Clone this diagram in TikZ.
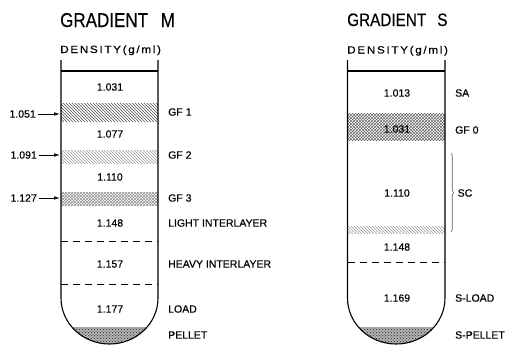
\documentclass[tikz,border=0pt]{standalone}
\usepackage{fontspec}
\usepackage{graphicx}
\setmainfont{Liberation Sans}[FakeBold=0.4]
\newfontfamily\spacedfont{Liberation Sans}[LetterSpace=14,FakeBold=0.4]
\usetikzlibrary{patterns,decorations.pathreplacing,arrows.meta}
\begin{document}
\begin{tikzpicture}[x=1pt,y=-1pt,
  wall/.style={line width=1.1pt},
  sep/.style={line width=0.9pt,dash pattern=on 7pt off 5pt},
  num/.style={inner sep=0pt,font=\fontsize{10.5}{12}\selectfont,anchor=center},
  lab/.style={inner sep=0pt,font=\fontsize{10.5}{12}\selectfont,anchor=west},
  ttl/.style={inner sep=0pt,anchor=base west,font=\fontsize{20}{22}\selectfont},
  dens/.style={inner sep=0pt,anchor=base west,font=\fontsize{10.5}{12}\spacedfont},
  arr/.style={line width=0.7pt,-{Latex[length=6pt,width=3.5pt]}},
  sc/.style={line width=0.6pt,gray!70!black,decorate,decoration={brace,amplitude=2.5pt}}
]
\useasboundingbox (0,0) rectangle (519,346);

% ---------- Gradient M ----------
\begin{scope}
\clip (61,60) -- (61,298) .. controls (61,323.4) and (82.7,344) .. (109.5,344)
   .. controls (136.3,344) and (158,323.4) .. (158,298) -- (158,60) -- cycle;
\fill[pattern=north west lines,pattern color=black!70] (61,103) rectangle (158,121);
\fill[pattern=north west lines,pattern color=black!40] (61,150) rectangle (158,163);
\fill[pattern=crosshatch,pattern color=black!45] (61,192) rectangle (158,205);
\fill[gray!60] (61,327) rectangle (158,346);
\fill[pattern=crosshatch dots,pattern color=black!85] (61,327) rectangle (158,346);
\end{scope}
\draw[wall] (61,60) -- (61,298) .. controls (61,323.4) and (82.7,344) .. (109.5,344)
   .. controls (136.3,344) and (158,323.4) .. (158,298) -- (158,60);
\draw[wall] (61,71) -- (158,71);
\draw[sep] (61,241) -- (158,241);
\draw[sep] (61,284) -- (158,284);

\node[ttl] (titleM) at (60,27) {\scalebox{0.85}[1]{GRADIENT\hspace{15pt}M}};
\node[dens] (densM) at (60,53) {\scalebox{1.12}[1]{DENSITY(g/ml)}};

\node[num] (m1031) at (110,87) {1.031};
\node[num] (m1077) at (110,134) {1.077};
\node[num] (m1110) at (110,177) {1.110};
\node[num] (m1148) at (110,223) {1.148};
\node[num] (m1157) at (110,264) {1.157};
\node[num] (m1177) at (110,309) {1.177};

\node[lab] (gf1) at (168,112) {GF 1};
\node[lab] (gf2) at (168,155) {GF 2};
\node[lab] (gf3) at (168,198) {GF 3};
\node[lab] (lil) at (168,223) {LIGHT INTERLAYER};
\node[lab] (hil) at (168,264) {HEAVY INTERLAYER};
\node[lab] (load) at (168,309) {LOAD};
\node[lab] (pel) at (168,335) {PELLET};

\node[num,anchor=east] (l1051) at (36,114) {1.051};
\node[num,anchor=east] (l1091) at (37,155) {1.091};
\node[num,anchor=east] (l1127) at (37,198) {1.127};
\coordinate (w1051) at (60,114);
\coordinate (w1091) at (60,155);
\coordinate (w1127) at (60,198);
\draw[arr] (l1051.east) ++(2,0) -- (w1051);
\draw[arr] (l1091.east) ++(2,0) -- (w1091);
\draw[arr] (l1127.east) ++(2,0) -- (w1127);

% ---------- Gradient S ----------
\begin{scope}
\clip (347.5,60) -- (347.5,298) .. controls (347.5,323.4) and (369.3,344) .. (396.25,344)
   .. controls (423.2,344) and (445,323.4) .. (445,298) -- (445,60) -- cycle;
\fill[pattern=crosshatch,pattern color=black!60] (347.5,113) rectangle (445,140);
\fill[pattern=north west lines,pattern color=black!40] (347.5,226) rectangle (445,233);
\fill[gray!60] (347.5,327) rectangle (445,346);
\fill[pattern=crosshatch dots,pattern color=black!85] (347.5,327) rectangle (445,346);
\end{scope}
\draw[wall] (347.5,60) -- (347.5,298) .. controls (347.5,323.4) and (369.3,344) .. (396.25,344)
   .. controls (423.2,344) and (445,323.4) .. (445,298) -- (445,60);
\draw[wall] (347.5,71) -- (445,71);
\draw[sep] (347.5,262) -- (445,262);

\node[ttl,font=\fontsize{18}{20}\selectfont] (titleS) at (347,26) {\scalebox{0.85}[1]{GRADIENT\hspace{13pt}S}};
\node[dens] (densS) at (347,53.5) {\scalebox{1.12}[1]{DENSITY(g/ml)}};

\node[num] (s1013) at (397,93) {1.013};
\node[num] (s1031) at (397,129) {1.031};
\node[num] (s1110) at (397,193) {1.110};
\node[num] (s1148) at (397,247) {1.148};
\node[num] (s1169) at (397,298) {1.169};

\node[lab] (sa) at (455,93) {SA};
\node[lab] (gf0) at (455,130) {GF 0};
\node[lab] (scl) at (457.5,193) {SC};
\node[lab] (sload) at (455,298) {S-LOAD};
\node[lab] (spel) at (455,335) {S-PELLET};

\coordinate (bt) at (451,153);
\coordinate (bb) at (451,232);
\draw[sc] (bt) -- (bb);
\end{tikzpicture}
\end{document}
